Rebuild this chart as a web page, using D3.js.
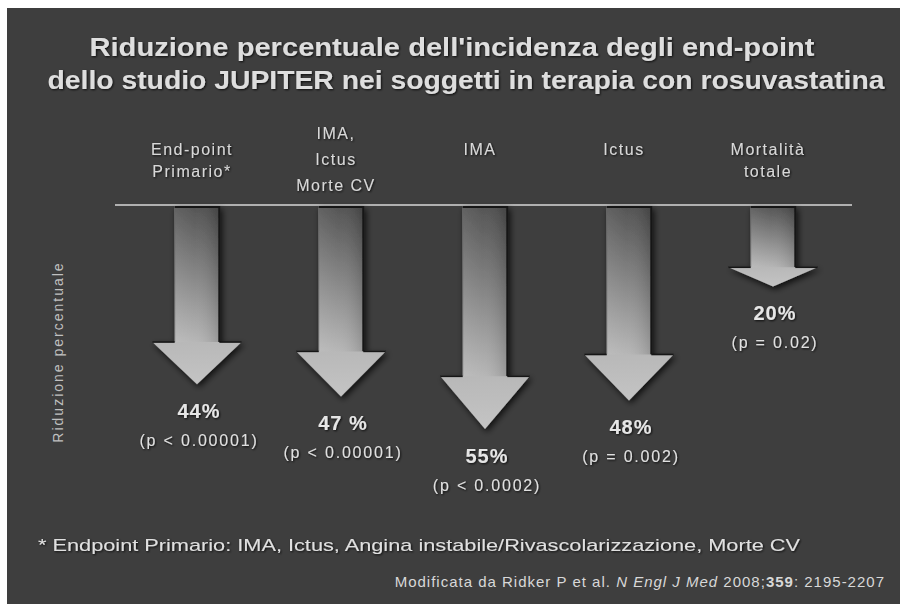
<!DOCTYPE html>
<html><head><meta charset="utf-8">
<script src="https://cdn.jsdelivr.net/npm/d3@7"></script>
<style>
html,body{margin:0;padding:0;background:#fff;}
svg{display:block;}
text{font-family:"Liberation Sans",Arial,sans-serif;}
</style></head>
<body>
<svg id="chart" width="910" height="608"></svg>
<script>
// ---- data ----
const categories = [["End-point","Primario*"],["IMA,","Ictus","Morte CV"],["IMA"],["Ictus"],["Mortalità","totale"]];
const reductions = [44, 47, 55, 48, 20];
const valueLabels = ["44%", "47 %", "55%", "48%", "20%"];
const pLabels = ["(p < 0.00001)", "(p < 0.00001)", "(p < 0.0002)", "(p = 0.002)", "(p = 0.02)"];
const titleLines = ["Riduzione percentuale dell'incidenza degli end-point", "dello studio JUPITER nei soggetti in terapia con rosuvastatina"];
const yTitle = "Riduzione percentuale";
const footnote = "* Endpoint Primario: IMA, Ictus, Angina instabile/Rivascolarizzazione, Morte CV";

const svg = d3.select("#chart");
const defs = svg.append("defs");

// background panel
svg.append("rect").attr("x",7).attr("y",8).attr("width",893).attr("height",596).attr("fill","#3e3e3e");

const shaftGrad = defs.append("linearGradient").attr("id","shaftGrad").attr("x1",0).attr("y1",0).attr("x2",0).attr("y2",1);
shaftGrad.append("stop").attr("offset","0%").attr("stop-color","#4c4c4c");
shaftGrad.append("stop").attr("offset","100%").attr("stop-color","#b4b4b4");
const shaftGradH = defs.append("linearGradient").attr("id","shaftGradH").attr("x1",0).attr("y1",0).attr("x2",1).attr("y2",0);
shaftGradH.append("stop").attr("offset","0%").attr("stop-color","#ffffff").attr("stop-opacity",0.12);
shaftGradH.append("stop").attr("offset","45%").attr("stop-color","#ffffff").attr("stop-opacity",0.05);
shaftGradH.append("stop").attr("offset","100%").attr("stop-color","#000000").attr("stop-opacity",0.15);
const headGrad = defs.append("linearGradient").attr("id","headGrad").attr("x1",0).attr("y1",0).attr("x2",0).attr("y2",1);
headGrad.append("stop").attr("offset","0%").attr("stop-color","#b8b8b8");
headGrad.append("stop").attr("offset","100%").attr("stop-color","#c4c4c4");
const shadow = defs.append("filter").attr("id","shadow").attr("x","-30%").attr("y","-10%").attr("width","160%").attr("height","130%");
shadow.append("feDropShadow").attr("dx",2).attr("dy",3).attr("stdDeviation",3).attr("flood-color","#000").attr("flood-opacity",0.75);
const txtShadow = defs.append("filter").attr("id","tshadow");
txtShadow.append("feDropShadow").attr("dx",1).attr("dy",1).attr("stdDeviation",1).attr("flood-color","#000").attr("flood-opacity",0.8);

// scales
const x = d3.scaleBand().domain(d3.range(categories.length)).range([125, 845]).padding(0);
const y = d3.scaleLinear().domain([0, 55]).range([205, 429]);

// title
svg.append("g").selectAll("text").data(titleLines).join("text")
  .attr("x",(d,i)=> i===0 ? 452 : 466).attr("y",(d,i)=>56+i*33)
  .attr("text-anchor","middle").attr("font-size",25).attr("font-weight","bold")
  .attr("fill","#dedede").attr("filter","url(#tshadow)")
  .attr("textLength",(d,i)=> i===0 ? 725 : 837).attr("lengthAdjust","spacingAndGlyphs")
  .text(d=>d);

// category labels
const catG = svg.append("g").attr("filter","url(#tshadow)");
categories.forEach((lines,i)=>{
  const cx = x(i)+x.bandwidth()/2 - 5;
  lines.forEach((ln,j)=>{
    const yy = lines.length===3 ? 139 + j*26 : 155 + j*22;
    catG.append("text").attr("x",cx).attr("y",yy)
      .attr("text-anchor","middle").attr("font-size",16).attr("letter-spacing",1.5)
      .attr("fill","#d8d8d8")
      .text(ln);
  });
});

// baseline
svg.append("line").attr("x1",115).attr("x2",852).attr("y1",y(0)).attr("y2",y(0))
  .attr("stroke","#b0b0b0").attr("stroke-width",2);

// arrows
const arrows = svg.append("g").selectAll("g").data(reductions).join("g").attr("filter","url(#shadow)");
arrows.each(function(v,i){
  const g = d3.select(this);
  const cx = x(i)+x.bandwidth()/2;
  const sw = x.bandwidth()*0.31, hw = x.bandwidth()*0.62;
  const top = y(0), tip = y(v);
  const headH = (tip-top)*0.235;
  const headTop = tip - headH;
  g.append("rect").attr("x",cx-sw/2).attr("y",top+1).attr("width",sw).attr("height",headTop-top)
    .attr("fill","url(#shaftGrad)");
  g.append("rect").attr("x",cx-sw/2).attr("y",top+1).attr("width",sw).attr("height",headTop-top)
    .attr("fill","url(#shaftGradH)");
  g.append("line").attr("x1",cx+sw/2).attr("x2",cx+sw/2).attr("y1",top+1).attr("y2",headTop)
    .attr("stroke","#141414").attr("stroke-width",2);
  g.append("line").attr("x1",cx-sw/2).attr("x2",cx-sw/2).attr("y1",top+1).attr("y2",headTop)
    .attr("stroke","#6a6a6a").attr("stroke-width",1);
  g.append("line").attr("x1",cx-sw/2).attr("x2",cx+sw/2).attr("y1",top+2).attr("y2",top+2)
    .attr("stroke","#151515").attr("stroke-width",2);
  g.append("path").attr("d",`M${cx-hw/2},${headTop} L${cx+hw/2},${headTop} L${cx},${tip} Z`)
    .attr("fill","url(#headGrad)");
  g.append("line").attr("x1",cx-hw/2).attr("x2",cx-sw/2).attr("y1",headTop).attr("y2",headTop)
    .attr("stroke","#141414").attr("stroke-width",1.5);
  g.append("line").attr("x1",cx+sw/2).attr("x2",cx+hw/2).attr("y1",headTop).attr("y2",headTop)
    .attr("stroke","#141414").attr("stroke-width",1.5);
});

// value labels
const lab = svg.append("g").attr("filter","url(#tshadow)");
reductions.forEach((v,i)=>{
  const cx = x(i)+x.bandwidth()/2 + 2;
  const ty = y(v) + 34;
  lab.append("text").attr("x",cx).attr("y",ty).attr("text-anchor","middle")
    .attr("font-size",20).attr("font-weight","bold").attr("letter-spacing",1)
    .attr("fill","#e6e6e6").text(valueLabels[i]);
  lab.append("text").attr("x",cx).attr("y",ty+28).attr("text-anchor","middle")
    .attr("font-size",16).attr("letter-spacing",1.8).attr("fill","#e0e0e0").text(pLabels[i]);
});

// y axis title
svg.append("text").attr("transform","translate(63,352) rotate(-90)")
  .attr("text-anchor","middle").attr("font-size",14).attr("letter-spacing",2)
  .attr("fill","#c0c0c0").text(yTitle);

// footnote
svg.append("text").attr("x",38).attr("y",551).attr("font-size",17).attr("fill","#e0e0e0")
  .attr("filter","url(#tshadow)")
  .attr("textLength",762).attr("lengthAdjust","spacingAndGlyphs").text(footnote);

// reference
const ref = svg.append("text").attr("x",885).attr("y",587).attr("text-anchor","end")
  .attr("font-size",15).attr("letter-spacing",1).attr("fill","#d8d8d8");
ref.append("tspan").text("Modificata da Ridker P et al. ");
ref.append("tspan").attr("font-style","italic").text("N Engl J Med");
ref.append("tspan").text(" 2008;");
ref.append("tspan").attr("font-weight","bold").text("359");
ref.append("tspan").text(": 2195-2207");
</script>
</body></html>
